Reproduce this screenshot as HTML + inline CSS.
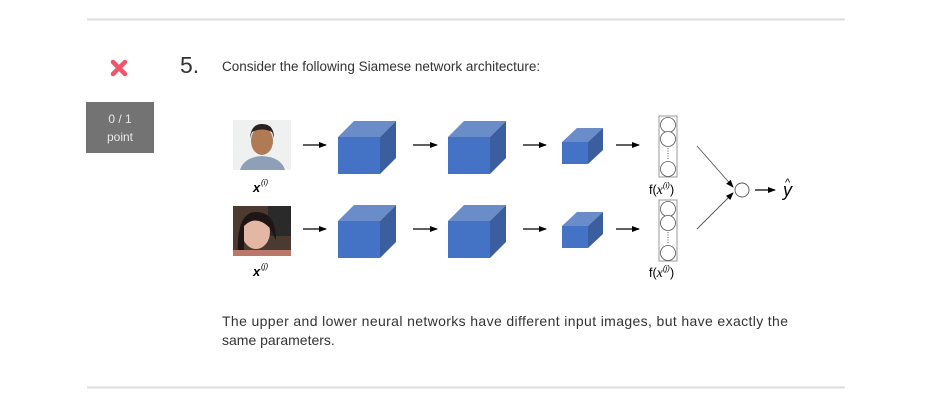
<!DOCTYPE html>
<html><head><meta charset="utf-8"><style>
html,body{margin:0;padding:0;background:#fff;width:945px;height:403px;overflow:hidden}
svg{display:block}
text{font-family:"Liberation Sans",sans-serif}
</style></head><body>
<svg width="945" height="403" viewBox="0 0 945 403" xmlns="http://www.w3.org/2000/svg">
<defs>
<marker id="ah" markerWidth="8" markerHeight="8" refX="7" refY="4" orient="auto" markerUnits="userSpaceOnUse">
<path d="M0,1 L8,4 L0,7 Z" fill="#000"/></marker>
<g id="cubeL">
<polygon points="338,137 354,121 396,121 380,137" fill="#6a8cc8"/>
<polygon points="380,137 396,121 396,158 380,174" fill="#3a5e9e"/>
<rect x="338" y="137" width="42" height="37" fill="#4472c4"/>
</g>
<g id="cubeS">
<polygon points="562,142 577,128 603,128 588,142" fill="#6a8cc8"/>
<polygon points="588,142 603,128 603,150 588,164" fill="#3a5e9e"/>
<rect x="562" y="142" width="26" height="22" fill="#4472c4"/>
</g>
<g id="vec">
<rect x="659" y="116" width="18" height="61" fill="#fff" stroke="#999" stroke-width="1"/>
<circle cx="668" cy="125" r="7.5" fill="#fff" stroke="#555" stroke-width="0.8"/>
<circle cx="668" cy="139" r="7.5" fill="#fff" stroke="#555" stroke-width="0.8"/>
<line x1="668" y1="148" x2="668" y2="159" stroke="#555" stroke-dasharray="1,1.5"/>
<circle cx="668" cy="169" r="7.5" fill="#fff" stroke="#555" stroke-width="0.8"/>
</g>
<g id="arrows" stroke="#000" stroke-width="1.2">
<line x1="303" y1="145" x2="326" y2="145" marker-end="url(#ah)"/>
<line x1="413" y1="145" x2="437" y2="145" marker-end="url(#ah)"/>
<line x1="523" y1="145" x2="546" y2="145" marker-end="url(#ah)"/>
<line x1="616" y1="145" x2="639" y2="145" marker-end="url(#ah)"/>
</g>
</defs>
<line x1="87" y1="19.5" x2="845" y2="19.5" stroke="#ddd" stroke-width="2"/>
<line x1="87" y1="387.5" x2="845" y2="387.5" stroke="#ddd" stroke-width="2"/>
<g stroke="#f0566a" stroke-width="4.5" stroke-linecap="round">
<line x1="113" y1="62" x2="125" y2="74"/><line x1="125" y1="62" x2="113" y2="74"/></g>
<text x="180" y="73" font-size="23" fill="#333" font-weight="300">5.</text>
<text x="222" y="71" font-size="13.5" fill="#333">Consider the following Siamese network architecture:</text>
<rect x="86" y="102" width="68" height="51" fill="#737373"/>
<text x="120" y="123" font-size="12" fill="#e8e8e8" text-anchor="middle">0 / 1</text>
<text x="120" y="141" font-size="12" fill="#e8e8e8" text-anchor="middle">point</text>

<rect x="233" y="120" width="58" height="50" fill="#eef1ef"/>
<ellipse cx="262" cy="141" rx="11" ry="14" fill="#b07a55"/>
<path d="M250,138 Q251,124 262,124 Q274,124 274,138 L272,132 Q262,127 252,132 Z" fill="#2a2220"/>
<path d="M240,170 Q244,157 262,156 Q281,157 285,170 Z" fill="#8ea0b8"/>
<rect x="233" y="206" width="58" height="50" fill="#4a3a30"/>
<rect x="268" y="206" width="23" height="30" fill="#2a2a2a"/>
<ellipse cx="256" cy="232" rx="14" ry="17" fill="#e4b6a4"/>
<path d="M238,256 Q236,212 256,212 Q276,212 276,240 L270,228 Q256,214 244,226 L244,256 Z" fill="#1e1514"/>
<rect x="233" y="250" width="58" height="6" fill="#b9786a"/>
<text x="253" y="192" font-size="13" font-family="Liberation Serif" font-weight="bold" font-style="italic">x</text>
<text x="261" y="185" font-size="8" font-family="Liberation Serif" font-style="italic">(i)</text>
<text x="253" y="276" font-size="13" font-family="Liberation Serif" font-weight="bold" font-style="italic">x</text>
<text x="261" y="269" font-size="8" font-family="Liberation Serif" font-style="italic">(j)</text>

<use href="#arrows"/><use href="#arrows" transform="translate(0,84)"/>
<use href="#cubeL"/><use href="#cubeL" transform="translate(110,0)"/>
<use href="#cubeL" transform="translate(0,84)"/><use href="#cubeL" transform="translate(110,84)"/>
<use href="#cubeS"/><use href="#cubeS" transform="translate(0,84)"/>
<use href="#vec"/><use href="#vec" transform="translate(0,84)"/>
<text x="649" y="194" font-size="12.5">f(<tspan font-family="Liberation Serif" font-style="italic" font-size="14">x</tspan><tspan font-size="8" dy="-6" font-style="italic">(i)</tspan><tspan dy="6">)</tspan></text>
<text x="649" y="277" font-size="12.5">f(<tspan font-family="Liberation Serif" font-style="italic" font-size="14">x</tspan><tspan font-size="8" dy="-6" font-style="italic">(j)</tspan><tspan dy="6">)</tspan></text>
<g stroke="#555" stroke-width="0.9">
<line x1="697" y1="146" x2="733" y2="187" marker-end="url(#ah)"/>
<line x1="697" y1="229" x2="733" y2="193" marker-end="url(#ah)"/>
</g>
<circle cx="742" cy="190" r="7" fill="#fff" stroke="#555" stroke-width="0.9"/>
<line x1="755" y1="190" x2="775" y2="190" stroke="#000" stroke-width="1.2" marker-end="url(#ah)"/>
<text x="783" y="196" font-size="18" font-family="Liberation Serif" font-style="italic">y</text>
<text x="785" y="186" font-size="11" font-family="Liberation Serif">^</text>

<text x="222" y="326" font-size="14" fill="#333" textLength="566" lengthAdjust="spacing">The upper and lower neural networks have different input images, but have exactly the</text>
<text x="222" y="345" font-size="14" fill="#333">same parameters.</text>
</svg>
</body></html>
